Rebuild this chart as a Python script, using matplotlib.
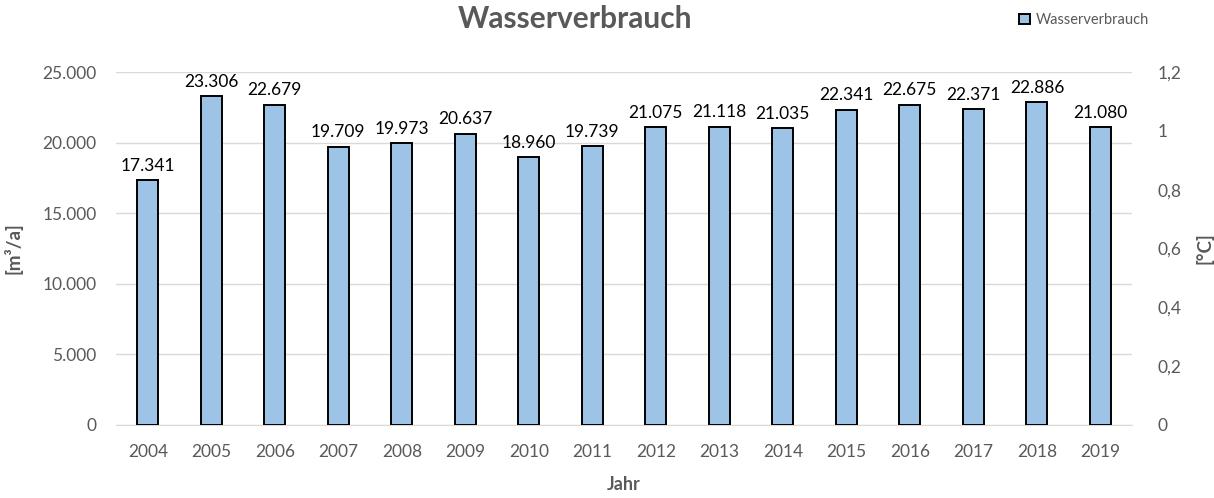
import matplotlib.pyplot as plt
from matplotlib.ticker import FuncFormatter, MultipleLocator

# Daten
jahre = ['2004', '2005', '2006', '2007', '2008', '2009', '2010', '2011',
         '2012', '2013', '2014', '2015', '2016', '2017', '2018', '2019']
verbrauch = [17341, 23306, 22679, 19709, 19973, 20637, 18960, 19739,
             21075, 21118, 21035, 22341, 22675, 22371, 22886, 21080]

plt.rcParams['font.family'] = ['Lato', 'DejaVu Sans']
grau = '#595959'

fig = plt.figure(figsize=(12.14, 4.98), dpi=100)
ax = fig.add_axes([0.0956, 0.1466, 0.837, 0.7088])

x = range(len(jahre))
bars = ax.bar(x, verbrauch, width=0.33, color='#9dc3e6', edgecolor='black',
              linewidth=1.4, label='Wasserverbrauch', zorder=3)

for xi, v in zip(x, verbrauch):
    ax.text(xi, v + 450, f'{v:,}'.replace(',', '.'), ha='center', va='bottom',
            fontsize=12.5, color='black')

ax.set_xlim(-0.5, len(jahre) - 0.5)
ax.set_ylim(0, 25000)
ax.yaxis.set_major_locator(MultipleLocator(5000))
ax.yaxis.set_major_formatter(FuncFormatter(lambda v, p: f'{int(v):,}'.replace(',', '.')))
ax.set_xticks(list(x))
ax.set_xticklabels(jahre)
ax.grid(axis='y', color='#d9d9d9', linewidth=1, zorder=0)
for s in ['top', 'right', 'left']:
    ax.spines[s].set_visible(False)
ax.spines['bottom'].set_color('#d9d9d9')
ax.tick_params(axis='y', length=0, labelsize=12.5, labelcolor=grau, pad=14)
ax.tick_params(axis='x', length=0, labelsize=12.5, labelcolor=grau, pad=14)
ax.set_ylabel('[m³/a]', fontsize=13.5, fontweight='bold', color=grau, labelpad=14)
ax.set_xlabel('Jahr', fontsize=13, fontweight='bold', color=grau, labelpad=11)

ax2 = ax.twinx()
ax2.set_ylim(0, 1.2)
ax2.yaxis.set_major_locator(MultipleLocator(0.2))
ax2.yaxis.set_major_formatter(FuncFormatter(lambda v, p: f'{v:g}'.replace('.', ',')))
for s in ax2.spines.values():
    s.set_visible(False)
ax2.tick_params(axis='y', length=0, labelsize=12.5, labelcolor=grau, pad=18)
ax2.set_ylabel('[°C]', fontsize=13.5, fontweight='bold', color=grau, labelpad=10)

fig.suptitle('Wasserverbrauch', x=0.474, y=0.99, fontsize=21.5, fontweight='bold', color=grau)
fig.legend(handles=[bars], loc='upper right', bbox_to_anchor=(0.957, 1.0),
           frameon=False, fontsize=10.5, labelcolor=grau, handlelength=0.7,
           handleheight=0.7, handletextpad=0.4)

fig.savefig('out.png', dpi=100)
